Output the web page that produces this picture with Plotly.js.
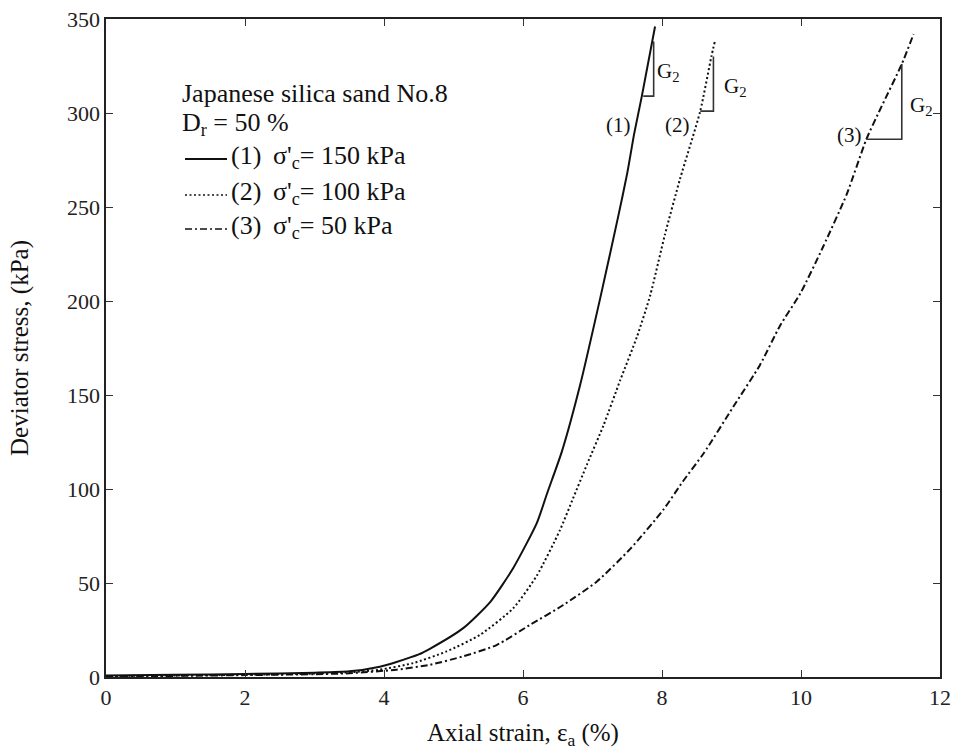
<!DOCTYPE html>
<html>
<head>
<meta charset="utf-8">
<script src="https://cdn.plot.ly/plotly-3.0.1.min.js"></script>
<style>html,body{margin:0;padding:0;background:#fff;}#chart{width:955px;height:754px;}</style>
</head>
<body>
<div id="chart"></div>
<script>
// Curve (1): sigma'c = 150 kPa
const strain150 = [0, 1, 2, 3, 3.5, 3.94, 4.18, 4.5, 4.66, 5.14, 5.53, 5.86, 6.2, 6.35, 6.56, 6.82, 7.12, 7.37, 7.5, 7.6, 7.71, 7.9];
const stress150 = [0.8, 1.2, 1.6, 2.3, 3, 5.5, 8, 12, 15, 26, 40, 58, 82, 98, 120, 155, 203, 245, 268, 289, 309, 346];
// Curve (2): sigma'c = 100 kPa
const strain100 = [0, 1, 2, 3, 3.5, 3.94, 4.42, 4.9, 5.38, 5.86, 6.2, 6.53, 6.72, 6.92, 7.16, 7.4, 7.64, 7.83, 8.04, 8.26, 8.55, 8.71, 8.76];
const stress100 = [0.5, 0.8, 1.2, 1.8, 2.5, 3.9, 7.4, 13.6, 22.4, 36.6, 54, 78, 95, 113, 134, 158, 181, 203, 235, 265, 301, 330, 338];
// Curve (3): sigma'c = 50 kPa
const strain50 = [0, 1, 2, 3, 3.5, 4.18, 4.66, 5.14, 5.62, 6.1, 6.58, 7.06, 7.54, 8.02, 8.3, 8.6, 9.03, 9.41, 9.7, 9.99, 10.32, 10.66, 10.94, 11.14, 11.45, 11.62];
const stress50 = [0.3, 0.6, 1.0, 1.5, 2, 3.9, 6.5, 11, 17, 27.7, 38.3, 50.7, 68, 89, 104, 119, 144, 166, 187, 204, 229, 257, 286, 302, 326, 342];

const seriesNames = ["(1)\u00a0\u2009σ'<sub>c</sub>= 150 kPa", "(2)\u00a0\u2009σ'<sub>c</sub>= 100 kPa", "(3)\u00a0\u2009σ'<sub>c</sub>= 50 kPa"];
const legendTitle = ["Japanese silica sand No.8", "D<sub>r</sub> = 50 %"];

// G2 slope triangles: [x start, x corner, x corner], [y base, y base, y top]
const triX1 = [7.73, 7.88, 7.88]; const triY1 = [309, 309, 338];
const triX2 = [8.55, 8.74, 8.74]; const triY2 = [301, 301, 330];
const triX3 = [10.94, 11.45, 11.45]; const triY3 = [286, 286, 326];
// label positions
const curveLabels = ["(1)", "(2)", "(3)"];
const curveLabelX = [7.38, 8.23, 10.70];
const curveLabelY = [293.5, 293.5, 288.5];
const g2X = [8.09, 9.06, 11.73];
const g2Y = [322, 314, 303.5];

const xTicks = [0, 2, 4, 6, 8, 10, 12];
const yTicks = [0, 50, 100, 150, 200, 250, 300, 350];

const FONT = "Liberation Serif, Times New Roman, serif";
const INK = "#111";
const DASHES = ["solid", "2px,2.5px", "7px,3px,2px,3px"];

// plot-area geometry (pixels) for placing the hand-drawn legend
const ML = 106, MR = 15, MT = 19, MB = 77, W = 955, H = 754;
const PW = W - ML - MR, PH = H - MT - MB;
const px2x = p => (p - ML) / PW;
const px2y = p => (H - MB - p) / PH;

const traces = [];
[[strain150, stress150], [strain100, stress100], [strain50, stress50]].forEach((d, i) => {
  traces.push({x: d[0], y: d[1], name: seriesNames[i], mode: "lines",
    line: {color: INK, width: 2, dash: DASHES[i], shape: "spline", smoothing: 0.6},
    showlegend: false, hoverinfo: "skip"});
});
[[triX1, triY1], [triX2, triY2], [triX3, triY3]].forEach(t => traces.push({
  x: t[0], y: t[1], mode: "lines", line: {color: "#333", width: 1.6}, showlegend: false, hoverinfo: "skip"}));

const LFONT = {family: FONT, size: 26, color: INK};
const annotations = [];
for (let i = 0; i < 3; i++) {
  annotations.push({x: curveLabelX[i], y: curveLabelY[i], xref: "x", yref: "y", text: curveLabels[i], showarrow: false, font: {family: FONT, size: 21, color: INK}});
  annotations.push({x: g2X[i], y: g2Y[i], xref: "x", yref: "y", text: "G<sub>2</sub>", showarrow: false, font: {family: FONT, size: 21, color: INK}});
}
// legend block
const titleRowsY = [93.5, 123.5];
legendTitle.forEach((t, i) => annotations.push({
  x: px2x(180), y: px2y(titleRowsY[i]), xref: "paper", yref: "paper", xanchor: "left", yanchor: "middle",
  text: t, showarrow: false, font: LFONT}));
const rowY = [157, 193, 227];
const shapes = [];
seriesNames.forEach((n, i) => {
  annotations.push({x: px2x(229), y: px2y(rowY[i]), xref: "paper", yref: "paper", xanchor: "left", yanchor: "middle",
    text: n, showarrow: false, font: LFONT});
  shapes.push({type: "line", xref: "paper", yref: "paper", x0: px2x(185), x1: px2x(227),
    y0: px2y(rowY[i] + 2), y1: px2y(rowY[i] + 2), line: {color: INK, width: i === 0 ? 2 : 1.6, dash: DASHES[i]}});
});

const layout = {
  width: W, height: H,
  margin: {l: ML, r: MR, t: MT, b: MB},
  paper_bgcolor: "#fff", plot_bgcolor: "#fff",
  font: {family: FONT, size: 22, color: INK},
  showlegend: false,
  xaxis: {
    range: [0, 12], tickvals: xTicks, ticktext: xTicks.map(String),
    ticks: "inside", ticklen: 7, tickwidth: 1, tickcolor: "#333",
    showline: true, linecolor: "#222", linewidth: 1.6, mirror: "ticks",
    showgrid: false, zeroline: false,
    tickfont: {family: FONT, size: 22, color: "#222"},
    title: {text: "Axial strain, ε<sub>a</sub> (%)", font: {family: FONT, size: 25, color: INK}, standoff: 14}
  },
  yaxis: {
    range: [0, 350], tickvals: yTicks, ticktext: yTicks.map(String),
    ticks: "inside", ticklen: 7, tickwidth: 1, tickcolor: "#333",
    showline: true, linecolor: "#222", linewidth: 1.6, mirror: "ticks",
    showgrid: false, zeroline: false,
    tickfont: {family: FONT, size: 22, color: "#222"},
    title: {text: "Deviator stress, (kPa)", font: {family: FONT, size: 25, color: INK}, standoff: 31}
  },
  annotations: annotations,
  shapes: shapes
};

Plotly.newPlot("chart", traces, layout, {displayModeBar: false, staticPlot: true});
</script>
</body>
</html>
